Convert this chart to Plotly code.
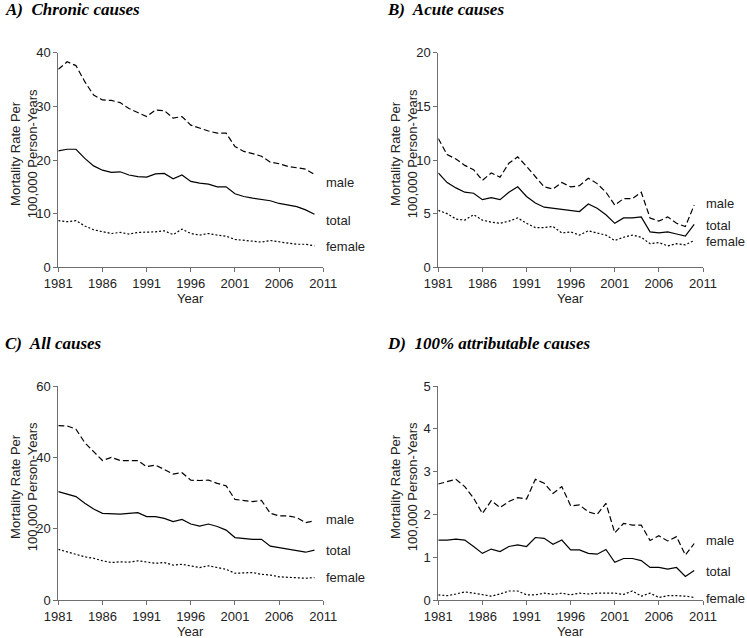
import plotly.graph_objects as go

years = list(range(1981, 2011))

# Panel A: Chronic causes
chronic_male = [36.9, 38.3, 37.6, 34.6, 32.1, 31.2, 31.1, 30.7, 29.6, 28.9,
                28.1, 29.3, 29.2, 27.8, 28.1, 26.5, 25.9, 25.4, 25.0, 25.0,
                22.5, 21.6, 21.2, 20.7, 19.6, 19.3, 18.8, 18.6, 18.3, 17.3]
chronic_total = [21.7, 22.0, 22.0, 20.3, 18.9, 18.1, 17.7, 17.8, 17.2, 16.9,
                 16.8, 17.4, 17.5, 16.5, 17.2, 16.0, 15.7, 15.5, 15.0, 15.0,
                 13.7, 13.2, 12.9, 12.7, 12.4, 11.9, 11.6, 11.3, 10.7, 9.9]
chronic_female = [8.7, 8.5, 8.7, 7.7, 7.0, 6.6, 6.3, 6.5, 6.2, 6.5,
                  6.5, 6.6, 6.8, 6.1, 7.1, 6.3, 6.0, 6.3, 6.0, 5.8,
                  5.2, 5.0, 4.8, 4.7, 5.0, 4.7, 4.5, 4.3, 4.3, 4.0]

# Panel B: Acute causes
acute_male = [12.0, 10.5, 10.1, 9.5, 9.1, 8.1, 8.8, 8.4, 9.7, 10.3,
              9.4, 8.4, 7.5, 7.3, 7.9, 7.5, 7.6, 8.3, 7.8, 7.0,
              5.8, 6.4, 6.4, 7.0, 4.6, 4.3, 4.7, 4.1, 3.8, 5.8]
acute_total = [8.8, 7.9, 7.4, 7.0, 6.9, 6.3, 6.5, 6.3, 7.0, 7.5,
               6.6, 6.0, 5.6, 5.5, 5.4, 5.3, 5.2, 5.9, 5.5, 4.9,
               4.1, 4.6, 4.6, 4.7, 3.3, 3.2, 3.3, 3.1, 2.9, 4.0]
acute_female = [5.3, 5.0, 4.5, 4.4, 4.9, 4.4, 4.2, 4.1, 4.3, 4.6,
                4.1, 3.7, 3.7, 3.8, 3.2, 3.3, 3.0, 3.4, 3.2, 3.0,
                2.5, 2.8, 3.0, 2.8, 2.2, 2.3, 2.0, 2.2, 2.1, 2.5]

# Panel C: All causes
all_male = [48.9, 48.8, 47.9, 44.1, 41.6, 39.1, 40.0, 39.1, 39.1, 39.1,
            37.4, 37.8, 36.6, 35.3, 35.7, 33.6, 33.5, 33.6, 32.7, 32.0,
            28.2, 28.0, 27.6, 27.9, 24.3, 23.6, 23.6, 23.1, 21.7, 22.2]
all_total = [30.4, 29.6, 29.0, 27.1, 25.5, 24.3, 24.1, 24.1, 24.3, 24.5,
             23.4, 23.4, 22.9, 22.0, 22.6, 21.3, 20.7, 21.3, 20.6, 19.6,
             17.5, 17.2, 17.0, 17.0, 15.1, 14.7, 14.3, 14.0, 13.4, 14.0]
all_female = [14.2, 13.6, 12.8, 12.1, 11.7, 11.0, 10.5, 10.7, 10.6, 11.0,
              10.6, 10.3, 10.5, 9.8, 10.0, 9.5, 9.1, 9.6, 9.1, 8.6,
              7.5, 7.5, 7.7, 7.2, 7.0, 6.5, 6.4, 6.4, 6.1, 6.3]

# Panel D: 100% attributable causes
attr_male = [2.71, 2.76, 2.82, 2.65, 2.38, 2.02, 2.32, 2.16, 2.30, 2.39,
             2.36, 2.82, 2.73, 2.49, 2.65, 2.20, 2.22, 2.06, 2.00, 2.26,
             1.57, 1.79, 1.75, 1.75, 1.39, 1.50, 1.38, 1.48, 1.05, 1.32]
attr_total = [1.40, 1.40, 1.42, 1.40, 1.25, 1.09, 1.19, 1.13, 1.25, 1.29,
              1.25, 1.46, 1.44, 1.30, 1.40, 1.17, 1.17, 1.09, 1.07, 1.18,
              0.88, 0.97, 0.97, 0.92, 0.76, 0.76, 0.72, 0.76, 0.55, 0.69]
attr_female = [0.12, 0.10, 0.14, 0.19, 0.16, 0.12, 0.09, 0.14, 0.21, 0.21,
               0.12, 0.12, 0.16, 0.13, 0.16, 0.12, 0.16, 0.14, 0.16, 0.16,
               0.16, 0.13, 0.21, 0.09, 0.16, 0.06, 0.10, 0.10, 0.09, 0.06]

panel_titles = ["A)  Chronic causes", "B)  Acute causes",
                "C)  All causes", "D)  100% attributable causes"]
y_maxes = [40, 20, 60, 5]
y_dticks = [10, 5, 20, 1]
x_ticks = [1981, 1986, 1991, 1996, 2001, 2006, 2011]
series_names = ["male", "total", "female"]
# label y positions (data units) for end-of-line labels
label_y = [[15.8, 8.8, 3.9], [5.9, 3.85, 2.4], [22.6, 13.8, 6.4], [1.38, 0.66, 0.04]]

panels = [
    (chronic_male, chronic_total, chronic_female),
    (acute_male, acute_total, acute_female),
    (all_male, all_total, all_female),
    (attr_male, attr_total, attr_female),
]

W, H = 747, 638
# plot area positions in pixels: (x0, x1, ytop, ybottom)
boxes = [(58.3, 323.3, 52.7, 267.3), (438.3, 703.0, 52.7, 267.3),
         (58.3, 323.3, 386.0, 600.0), (438.3, 703.0, 386.0, 600.0)]
dashes = ["6px,3px", "solid", "2px,2px"]

fig = go.Figure()
annotations = []
axis_color = "#6e6e6e"
font_sans = "Liberation Sans, Arial, sans-serif"

for i, (data, box) in enumerate(zip(panels, boxes)):
    n = i + 1
    xa = "x" if n == 1 else f"x{n}"
    ya = "y" if n == 1 else f"y{n}"
    for name, vals, dash in zip(series_names, data, dashes):
        fig.add_trace(go.Scatter(
            x=years, y=vals, mode="lines", name=name, showlegend=False,
            line=dict(color="black", width=1.2, dash=dash),
            xaxis=xa, yaxis=ya, cliponaxis=False))
    x0, x1, yt, yb = box
    xdom = [x0 / W, x1 / W]
    ydom = [1 - yb / H, 1 - yt / H]
    xkey = "xaxis" if n == 1 else f"xaxis{n}"
    ykey = "yaxis" if n == 1 else f"yaxis{n}"
    fig.layout[xkey] = dict(
        domain=xdom, range=[1981, 2011], anchor=ya, tickmode="array",
        tickvals=x_ticks, ticks="outside", ticklen=4, tickcolor=axis_color,
        showline=True, linecolor=axis_color, linewidth=1, showgrid=False,
        zeroline=False, automargin=False,
        tickfont=dict(family=font_sans, size=13, color="#222"))
    fig.layout[ykey] = dict(
        domain=ydom, range=[0, y_maxes[i]], anchor=xa, dtick=y_dticks[i],
        ticks="outside", ticklen=4, tickcolor=axis_color,
        showline=True, linecolor=axis_color, linewidth=1, showgrid=False,
        zeroline=False, automargin=False,
        tickfont=dict(family=font_sans, size=13, color="#222"))
    # x axis title
    annotations.append(dict(
        text="Year", xref="paper", yref="paper", x=(x0 + x1) / 2 / W,
        y=1 - (yb + 31) / H, xanchor="center", yanchor="middle", showarrow=False,
        font=dict(family=font_sans, size=13, color="#222")))
    # y axis title (two lines)
    annotations.append(dict(
        text="Mortality Rate Per<br>100,000 Person-Years", textangle=-90,
        xref="paper", yref="paper", x=(x0 - 34) / W, y=1 - ((yt + yb) / 2 - 6) / H,
        xanchor="center", yanchor="middle", showarrow=False,
        font=dict(family=font_sans, size=13, color="#222")))
    # panel title
    tx = 3 if i % 2 == 0 else 385
    ty = 10 if i < 2 else 343
    annotations.append(dict(
        text="<b><i>" + panel_titles[i] + "</i></b>", xref="paper", yref="paper",
        x=tx / W, y=1 - ty / H, xanchor="left", yanchor="middle",
        showarrow=False,
        font=dict(family="Liberation Serif, Times New Roman, serif", size=17, color="black")))
    # line end labels
    ymax = y_maxes[i]
    for name, ly in zip(series_names, label_y[i]):
        py = yb - (ly / ymax) * (yb - yt)
        annotations.append(dict(
            text=name, xref="paper", yref="paper", x=(x1 + 1) / W, y=1 - py / H,
            xanchor="left", yanchor="middle", showarrow=False,
            font=dict(family=font_sans, size=13, color="#222")))

fig.update_layout(
    width=W, height=H, margin=dict(l=0, r=0, t=0, b=0, autoexpand=False),
    paper_bgcolor="white", plot_bgcolor="white",
    annotations=annotations, showlegend=False)

# remove the default page margin so the figure fills the window exactly
fig.write_html("out.html", config={"displayModeBar": False},
               post_script="document.body.style.margin='0';document.body.style.overflow='hidden';")
